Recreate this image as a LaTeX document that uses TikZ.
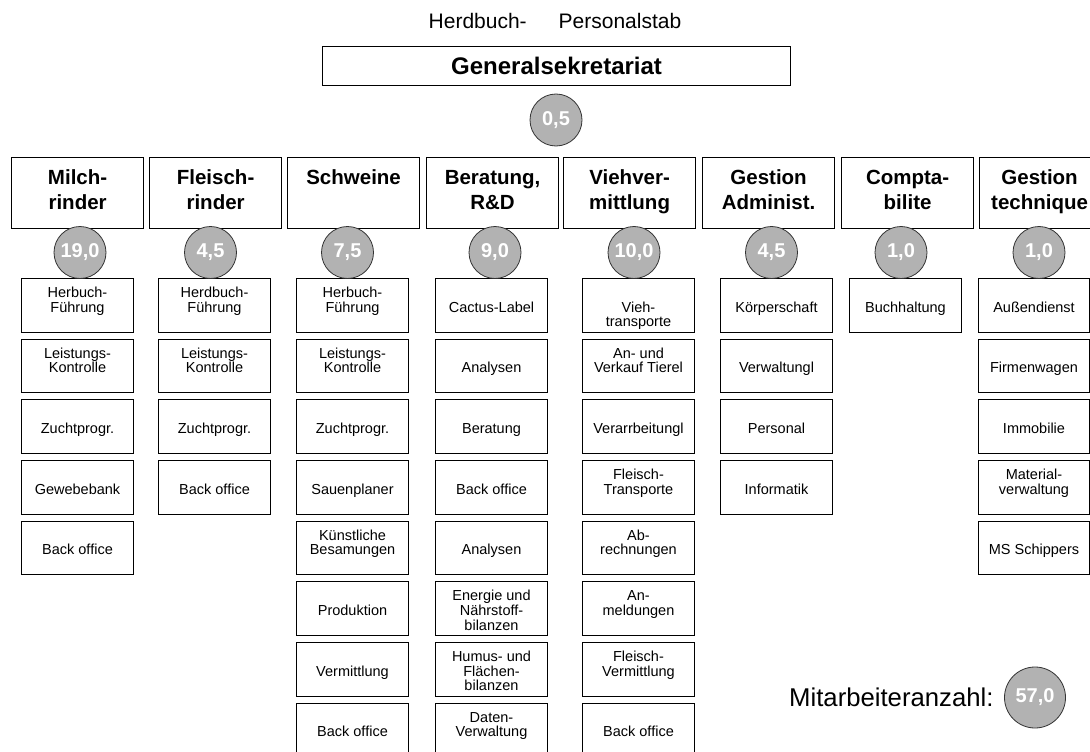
\documentclass[tikz,border=0pt]{standalone}
\usepackage{fontspec}
\setmainfont{Liberation Sans}
\usetikzlibrary{shapes.geometric}
\definecolor{circgray}{RGB}{178,178,178}
% struts for consistent vertical placement
\newcommand{\topst}{\rule{0pt}{18pt}}
\newcommand{\botst}{\rule[-4pt]{0pt}{4pt}}
\newcommand{\one}[1]{\topst\\#1\\\botst}
\newcommand{\two}[2]{\topst #1\\#2\\\botst}
\newcommand{\twolow}[2]{\topst\\#1\\#2\botst}
\newcommand{\three}[3]{\topst #1\\#2\\#3\botst}
\newcommand{\ttwo}[2]{\rule{0pt}{16pt}#1\\#2\rule[-9pt]{0pt}{9pt}}
\begin{document}
\begin{tikzpicture}[x=1pt,y=-1pt,
  topbox/.style={draw, line width=1.2pt, minimum width=132pt, minimum height=71pt,
    inner sep=0pt, align=center, anchor=north west,
    font=\fontsize{20.5}{25}\selectfont\bfseries},
  subbox/.style={draw, line width=1pt, minimum width=112pt, minimum height=53.5pt,
    inner sep=0pt, align=center, anchor=north west,
    font=\fontsize{14.5}{14.7}\selectfont},
  numcirc/.style={circle, draw=black!80, line width=0.8pt, fill=circgray,
    minimum size=52pt, inner sep=0pt, text=white,
    font=\fontsize{20}{20}\selectfont\bfseries}]
\useasboundingbox (0,0) rectangle (1090,752);

% header
\node[anchor=base, font=\fontsize{21}{21}\selectfont] (hdr) at (555,28.3)
  {Herdbuch-\hspace{32pt}Personalstab};
\node[draw, line width=1.2pt, minimum width=468pt, minimum height=39pt,
  anchor=north west, inner sep=0pt, font=\fontsize{24}{24}\selectfont\bfseries]
  (gs) at (322,46) {Generalsekretariat};
\node[numcirc] (cgs) at (556,120) {0,5};

% top-level boxes
\node[topbox] (t1) at (11,157)  {\ttwo{Milch-}{rinder}};
\node[topbox] (t2) at (149,157) {\ttwo{Fleisch-}{rinder}};
\node[topbox] (t3) at (287,157) {\ttwo{Schweine}{}};
\node[topbox] (t4) at (426,157) {\ttwo{Beratung,}{R\&D}};
\node[topbox] (t5) at (563,157) {\ttwo{Viehver-}{mittlung}};
\node[topbox] (t6) at (702,157) {\ttwo{Gestion}{Administ.}};
\node[topbox] (t7) at (841,157) {\ttwo{Compta-}{bilite}};
\node[topbox, minimum width=120pt] (t8) at (979,157) {\ttwo{Gestion}{technique}};

% column 1: Milchrinder
\node[subbox] (a1) at (21,278)   {\two{Herbuch-}{Führung}};
\node[subbox] (a2) at (21,338.7) {\two{Leistungs-}{Kontrolle}};
\node[subbox] (a3) at (21,399.3) {\one{Zuchtprogr.}};
\node[subbox] (a4) at (21,460)   {\one{Gewebebank}};
\node[subbox] (a5) at (21,520.6) {\one{Back office}};

% column 2: Fleischrinder
\node[subbox] (b1) at (158,278)   {\two{Herdbuch-}{Führung}};
\node[subbox] (b2) at (158,338.7) {\two{Leistungs-}{Kontrolle}};
\node[subbox] (b3) at (158,399.3) {\one{Zuchtprogr.}};
\node[subbox] (b4) at (158,460)   {\one{Back office}};

% column 3: Schweine
\node[subbox] (c1) at (296,278)   {\two{Herbuch-}{Führung}};
\node[subbox] (c2) at (296,338.7) {\two{Leistungs-}{Kontrolle}};
\node[subbox] (c3) at (296,399.3) {\one{Zuchtprogr.}};
\node[subbox] (c4) at (296,460)   {\one{Sauenplaner}};
\node[subbox] (c5) at (296,520.6) {\two{Künstliche}{Besamungen}};
\node[subbox] (c6) at (296,581.3) {\one{Produktion}};
\node[subbox] (c7) at (296,642)   {\one{Vermittlung}};
\node[subbox] (c8) at (296,702.6) {\one{Back office}};

% column 4: Beratung
\node[subbox] (d1) at (435,278)   {\one{Cactus-Label}};
\node[subbox] (d2) at (435,338.7) {\one{Analysen}};
\node[subbox] (d3) at (435,399.3) {\one{Beratung}};
\node[subbox] (d4) at (435,460)   {\one{Back office}};
\node[subbox] (d5) at (435,520.6) {\one{Analysen}};
\node[subbox] (d6) at (435,581.3) {\three{Energie und}{Nährstoff-}{bilanzen}};
\node[subbox] (d7) at (435,642)   {\three{Humus- und}{Flächen-}{bilanzen}};
\node[subbox] (d8) at (435,702.6) {\two{Daten-}{Verwaltung}};

% column 5: Viehvermittlung
\node[subbox] (e1) at (582,278)   {\twolow{Vieh-}{transporte}};
\node[subbox] (e2) at (582,338.7) {\two{An- und}{Verkauf Tierel}};
\node[subbox] (e3) at (582,399.3) {\one{Verarrbeitungl}};
\node[subbox] (e4) at (582,460)   {\two{Fleisch-}{Transporte}};
\node[subbox] (e5) at (582,520.6) {\two{Ab-}{rechnungen}};
\node[subbox] (e6) at (582,581.3) {\two{An-}{meldungen}};
\node[subbox] (e7) at (582,642)   {\two{Fleisch-}{Vermittlung}};
\node[subbox] (e8) at (582,702.6) {\one{Back office}};

% column 6: Gestion Administ.
\node[subbox] (f1) at (720,278)   {\one{Körperschaft}};
\node[subbox] (f2) at (720,338.7) {\one{Verwaltungl}};
\node[subbox] (f3) at (720,399.3) {\one{Personal}};
\node[subbox] (f4) at (720,460)   {\one{Informatik}};

% column 7: Comptabilite
\node[subbox] (g1) at (849,278)   {\one{Buchhaltung}};

% column 8: Gestion technique
\node[subbox, minimum width=111pt] (h1) at (978,278)   {\one{Außendienst}};
\node[subbox, minimum width=111pt] (h2) at (978,338.7) {\one{Firmenwagen}};
\node[subbox, minimum width=111pt] (h3) at (978,399.3) {\one{Immobilie}};
\node[subbox, minimum width=111pt] (h4) at (978,460)   {\two{Material-}{verwaltung}};
\node[subbox, minimum width=111pt] (h5) at (978,520.6) {\one{MS Schippers}};

% staff circles
\node[numcirc] (n1) at (80,252.5)    {19,0};
\node[numcirc] (n2) at (210.5,252.5) {4,5};
\node[numcirc] (n3) at (347.5,252.5) {7,5};
\node[numcirc] (n4) at (495,252.5)   {9,0};
\node[numcirc] (n5) at (634,252.5)   {10,0};
\node[numcirc] (n6) at (771.5,252.5) {4,5};
\node[numcirc] (n7) at (901,252.5)   {1,0};
\node[numcirc] (n8) at (1039,252.5)  {1,0};

% total
\node[anchor=base west, inner sep=0pt, font=\fontsize{25.7}{25.7}\selectfont]
  (tot) at (789,706.7) {Mitarbeiteranzahl:};
\node[numcirc, minimum size=61pt] (ntot) at (1035,697.5) {57,0};
\end{tikzpicture}
\end{document}
